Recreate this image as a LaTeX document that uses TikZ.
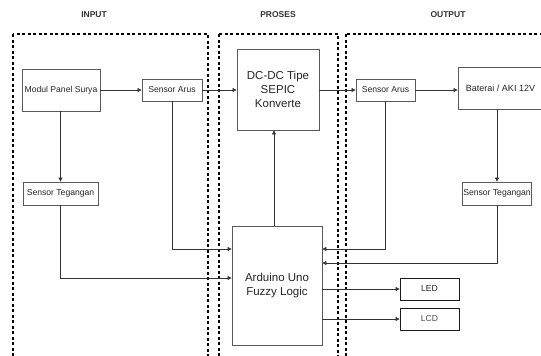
\documentclass[tikz,border=0pt]{standalone}
\usepackage{fontspec}
\setmainfont{Liberation Sans}
\usetikzlibrary{arrows.meta}
\tikzset{
  blk/.style={draw=black!65, line width=0.8pt, fill=white, inner sep=1pt, align=center, text=black!85},
  grp/.style={draw=black, line width=1.3pt, dash pattern=on 3pt off 2.5pt},
  hdr/.style={font=\bfseries\fontsize{8.5}{9}\selectfont, text=black!80},
  con/.style={draw=black!80, line width=0.7pt, -{Triangle[length=4pt,width=4pt]}},
  small/.style={font=\fontsize{8.6}{10}\selectfont},
  big/.style={font=\fontsize{11.5}{14}\selectfont}
}
\begin{document}
\begin{tikzpicture}[x=1pt,y=-1pt]
\useasboundingbox (0,0) rectangle (541,356);
\begin{scope}
\clip (0,0) rectangle (541,356);
% groups
\draw[grp] (13,34) rectangle (208,362);
\draw[grp] (219,34) rectangle (338,362);
\draw[grp] (346,34) rectangle (548,362);
\node[hdr] (hin) at (94,15) {INPUT};
\node[hdr] (hpr) at (278,15) {PROSES};
\node[hdr] (hout) at (448,15) {OUTPUT};
% blocks
\node[blk, small, minimum width=78pt, minimum height=42pt] (panel) at (61,90) {Modul Panel Surya};
\node[blk, small, minimum width=60pt, minimum height=22pt] (sai) at (172,90) {Sensor Arus};
\node[blk, big, minimum width=82pt, minimum height=81pt] (dcdc) at (278,89.5) {DC-DC Tipe\\SEPIC\\Konverte};
\node[blk, small, minimum width=59pt, minimum height=22pt] (sao) at (385.5,90) {Sensor Arus};
\node[blk, font=\fontsize{9}{10}\selectfont, minimum width=85pt, minimum height=42pt] (bat) at (500.5,88) {Baterai / AKI 12V};
\node[blk, small, minimum width=75pt, minimum height=23pt] (stl) at (60.5,193.5) {Sensor Tegangan};
\node[blk, small, minimum width=66pt, minimum height=23pt] (str) at (497,193.5) {Sensor Tegangan};
\node[blk, big, minimum width=90pt, minimum height=119pt] (ard) at (277,285.5) {Arduino Uno\\Fuzzy Logic};
\node[blk, small, draw=black!90, minimum width=59pt, minimum height=22pt] (led) at (429.5,289) {LED};
\node[blk, small, draw=black!90, text=black!70, minimum width=59pt, minimum height=22pt] (lcd) at (429.5,319) {LCD};
% connectors
\draw[con] (panel.east) -- (sai.west);
\draw[con] (sai.east) -- (sai.east -| dcdc.west);
\draw[con] (dcdc.east |- sao.west) -- (sao.west);
\draw[con] (sao.east) -- (sao.east -| bat.west);
\draw[con] (panel.south -| stl.north) -- (stl.north);
\draw[con] (bat.south -| str.north) -- (str.north);
\draw[con] (sai.south) |- (ard.west |- 0,249);
\draw[con] (stl.south) |- (ard.west |- 0,278);
\draw[con] (274,0 |- ard.north) -- (274,0 |- dcdc.south);
\draw[con] (sao.south) |- (ard.east |- 0,249);
\draw[con] (str.south) |- (ard.east |- 0,263);
\draw[con] (ard.east |- led.west) -- (led.west);
\draw[con] (ard.east |- lcd.west) -- (lcd.west);
\end{scope}
\end{tikzpicture}
\end{document}
